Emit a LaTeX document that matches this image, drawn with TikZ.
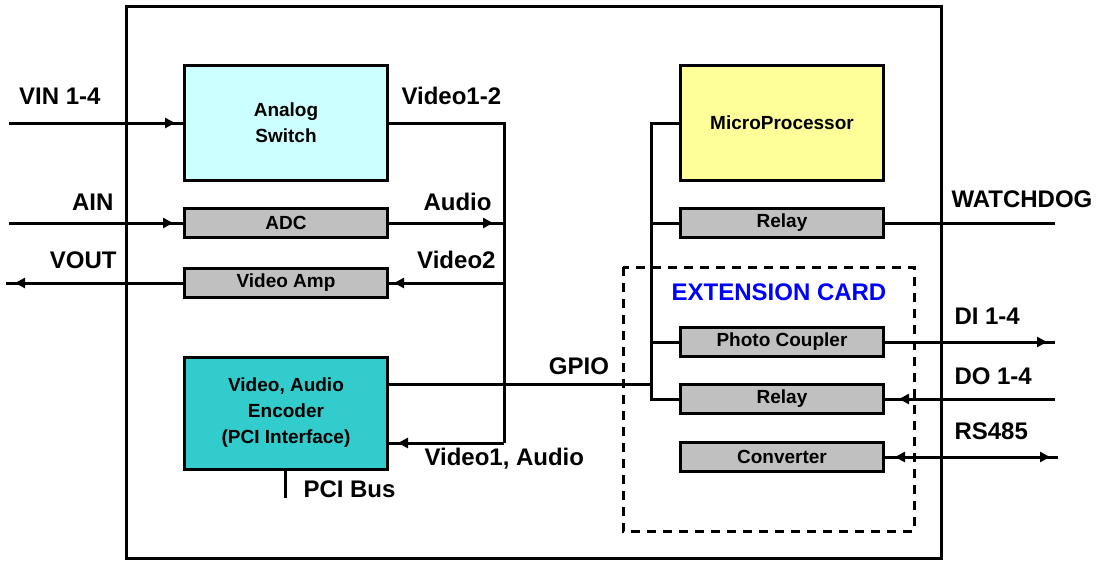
\documentclass[tikz,border=0pt]{standalone}
\usepackage{fontspec}
\setmainfont{Liberation Sans}
\usetikzlibrary{arrows.meta,decorations.markings}
\definecolor{cyanlight}{HTML}{CCFFFF}
\definecolor{tealbox}{HTML}{33CCCC}
\definecolor{yelbox}{HTML}{FFFF99}
\definecolor{boxgray}{HTML}{C0C0C0}
\definecolor{extblue}{HTML}{0000FF}
\begin{document}
\begin{tikzpicture}[x=1pt,y=-1pt,line width=3pt,
  box/.style={draw,line width=3pt,minimum width=203pt,inner sep=0pt,align=center,
    font=\bfseries\fontsize{19}{26}\selectfont},
  graybox/.style={box,fill=boxgray,minimum height=29pt},
  lbl/.style={inner sep=0pt,font=\bfseries\fontsize{24}{26}\selectfont},
  arrat/.style={postaction={decorate,decoration={markings,
      mark=at position #1 with {\arrow{Triangle[length=10pt,width=10pt]}}}}},
  arrback/.style={postaction={decorate,decoration={markings,
      mark=at position #1 with {\arrowreversed{Triangle[length=10pt,width=10pt]}}}}},
]
\useasboundingbox (0,0) rectangle (1096,563);
\node[draw,line width=3pt,minimum width=815pt,minimum height=552pt,inner sep=0pt] (frame) at (533.5,282) {};

% boxes
\node[box,fill=cyanlight,minimum height=115pt] (sw) at (286,123) {Analog\\Switch};
\node[graybox] (adc) at (286,223) {ADC};
\node[graybox] (amp) at (286,283) {Video Amp};
\node[box,fill=tealbox,minimum height=112pt] (enc) at (286,413) {Video, Audio\\Encoder\\(PCI Interface)};
\node[box,fill=yelbox,minimum height=115pt] (mp) at (782,123) {MicroProcessor};
\node[graybox] (rl1) at (782,223) {Relay};
\node[graybox] (pc) at (782,342) {Photo Coupler};
\node[graybox] (rl2) at (782,399) {Relay};
\node[graybox] (cv) at (782,457) {Converter};

% extension card region
\coordinate (ext1) at (623,267);
\coordinate (ext2) at (914,531);
\draw[dash pattern=on 9pt off 7pt] (ext1) rectangle (ext2);

% coordinates
\coordinate (vin) at (9,123);
\coordinate (ain) at (9,223);
\coordinate (vout) at (6,283);
\coordinate (bT) at (504,123);
\coordinate (bA) at (504,223);
\coordinate (bV) at (504,283);
\coordinate (bB) at (504,443);
\coordinate (gp) at (651,384);
\coordinate (rT) at (651,123);
\coordinate (rR1) at (651,223);
\coordinate (rPC) at (651,342);
\coordinate (rB) at (651,399);
\coordinate (wd) at (1055,223);
\coordinate (di) at (1055,342);
\coordinate (do) at (1055,399);
\coordinate (rs) at (1058,457);
\coordinate (pci) at (285,498);

% left side
\draw[arrat=-8pt] (vin) -- (sw.west);
\draw (sw.east) -- (bT) -- (bB);
\draw[arrat=-10pt] (ain) -- (adc.west);
\draw[arrat=-11pt] (adc.east) -- (bA);
\draw[arrat=-9pt] (amp.west) -- (vout);
\draw[arrback=5pt] (amp.east) -- (bV);
\draw[arrback=9pt] (enc.east |- bB) -- (bB);
\draw (enc.east |- gp) -- (gp);
\draw (enc.south -| pci) -- (pci);

% right side
\draw (mp.west) -- (rT) -- (rB) -- (rl2.west);
\draw (rR1) -- (rl1.west);
\draw (rPC) -- (pc.west);
\draw (rl1.east) -- (wd);
\draw[arrat=-8pt] (pc.east) -- (di);
\draw[arrback=14pt] (rl2.east) -- (do);
\draw[arrback=10pt,arrat=-8pt] (cv.east) -- (rs);

% labels
\node[lbl,anchor=east] (lvin) at (102,96) {VIN 1-4};
\node[lbl,anchor=west] (lv12) at (400,96) {Video1-2};
\node[lbl,anchor=east] (lain) at (115,202) {AIN};
\node[lbl,anchor=east] (laud) at (493,202) {Audio};
\node[lbl,anchor=east] (lvout) at (118,260) {VOUT};
\node[lbl,anchor=east] (lv2) at (497,260) {Video2};
\node[lbl] (lgpio) at (579,366) {GPIO};
\node[lbl,anchor=west] (lv1a) at (423,459) {Video1, Audio};
\node[lbl,anchor=west] (lpci) at (302,489) {PCI Bus};
\node[lbl,anchor=west] (lwd) at (950,199) {WATCHDOG};
\node[lbl,text=extblue] (lext) at (779,292) {EXTENSION CARD};
\node[lbl,anchor=west] (ldi) at (953,316) {DI 1-4};
\node[lbl,anchor=west] (ldo) at (953,376) {DO 1-4};
\node[lbl,anchor=west] (lrs) at (953,431) {RS485};
\end{tikzpicture}
\end{document}
